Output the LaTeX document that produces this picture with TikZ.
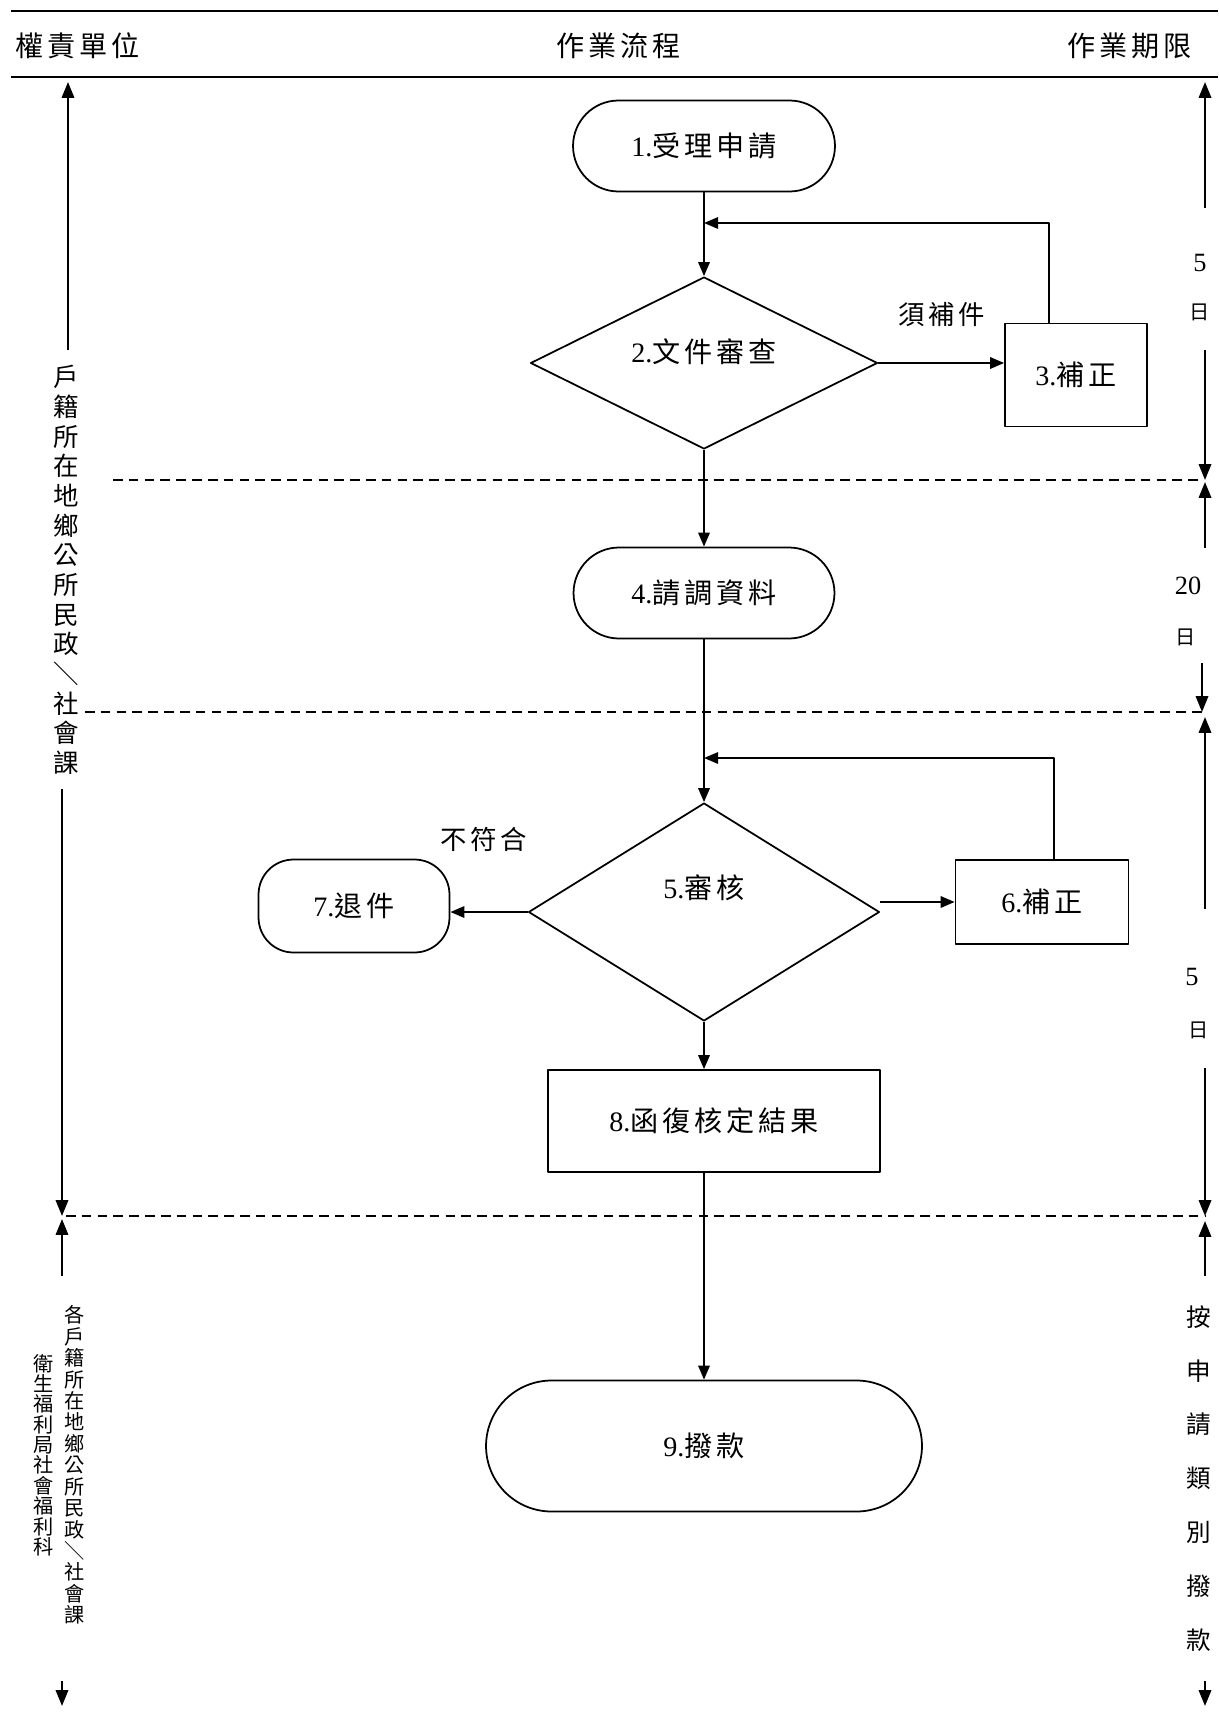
\documentclass[tikz,border=0pt]{standalone}
\usepackage{fontspec}
\setmainfont{Liberation Serif}
\newfontfamily\cjk[LetterSpace=14]{Noto Sans CJK TC}
\newfontfamily\cjkplain{Noto Sans CJK TC}
\newcommand{\zh}[1]{{\cjk #1}}
\usetikzlibrary{arrows.meta,shapes.geometric}

\tikzset{
  proc/.style={draw, line width=1pt, rectangle, inner sep=0pt,
               font=\fontsize{16}{19}\selectfont},
  term/.style={proc, rounded corners=#1},
  decide/.style={draw, line width=1pt, diamond, inner sep=0pt,
                 font=\fontsize{16}{19}\selectfont},
  head/.style={font=\cjk\fontsize{16}{19}\selectfont},
  note/.style={font=\cjk\fontsize{15}{18}\selectfont},
  flow/.style={line width=1.2pt, -{Triangle[length=8pt,width=6.5pt]}},
  loopline/.style={flow, line width=1pt},
  sep/.style={line width=1pt, dash pattern=on 5.5pt off 3.5pt},
  span/.style={line width=1.3pt, -{Triangle[length=9pt,width=7pt]}},
  days/.style={font=\fontsize{15}{18}\selectfont},
  dayzh/.style={font=\cjkplain\fontsize{11.5}{14}\selectfont},
}

\begin{document}
\begin{tikzpicture}[x=0.02cm, y=-0.02cm, line join=round]
  \def\cx{704}
  \useasboundingbox (0,0) rectangle (1218,1717);

  % Header
  \draw[line width=1.6pt] (11,11) -- (1218,11);
  \draw[line width=1.6pt] (11,77) -- (1218,77);
  \node[head, anchor=west] (hunit) at (9,46) {權責單位};
  \node[head] (hflow) at (619,46) {作業流程};
  \node[head, anchor=east] (hdue) at (1198,46) {作業期限};

  % Stage separators
  \draw[sep] (113,480) -- (1203,480);
  \draw[sep] (85,712) -- (1203,712);
  \draw[sep] (66,1216) -- (1205,1216);

  % Flow nodes
  \node[term=0.91cm, minimum width=5.24cm, minimum height=1.82cm] (apply) at (\cx,146) {1.\zh{受理申請}};
  \node[decide, aspect=2, minimum width=6.94cm, minimum height=3.44cm, text depth=14pt] (check) at (\cx,363) {2.\zh{文件審查}};
  \node[proc, minimum width=2.84cm, minimum height=2.06cm] (fix1) at (1076,375) {3.\zh{補正}};
  \node[term=0.91cm, minimum width=5.22cm, minimum height=1.82cm] (fetch) at (\cx,593) {4.\zh{請調資料}};
  \node[decide, aspect=1.6, minimum width=7.02cm, minimum height=4.36cm, text depth=29pt] (review) at (\cx,912) {5.\zh{審核}};
  \node[proc, minimum width=3.46cm, minimum height=1.68cm] (fix2) at (1042,902) {6.\zh{補正}};
  \node[term=0.7cm, minimum width=3.82cm, minimum height=1.86cm] (reject) at (354,906) {7.\zh{退件}};
  \node[proc, minimum width=6.64cm, minimum height=2.04cm] (reply) at (714,1121) {8.\zh{函復核定結果}};
  \node[term=1.31cm, minimum width=8.72cm, minimum height=2.62cm] (pay) at (\cx,1446) {9.\zh{撥款}};

  % Branch labels
  \node[note] (needmore) at (942,315) {須補件};
  \node[note] (nomatch) at (484,839) {不符合};

  % Connectors
  \coordinate (loop1) at (1049,223);
  \coordinate (loop2) at (1054,758);
  \draw[flow] (apply) -- (check);
  \draw[flow] (check.east) -- (check.east -| fix1.west);
  \draw[loopline] (fix1.north -| loop1) -- (loop1) -- (loop1 -| apply.south);
  \draw[flow] (check) -- (fetch);
  \draw[flow] (fetch) -- (review);
  \draw[loopline] (fix2.north -| loop2) -- (loop2) -- (loop2 -| fetch.south);
  \draw[flow] (review.west) -- (review.west -| reject.east);
  \draw[flow] (review.east |- fix2.west) -- (fix2.west);
  \draw[flow] (review.south) -- (review.south |- reply.north);
  \draw[flow] (reply.south -| pay.north) -- (pay.north);

  % Responsible units
  \node[align=center, font=\cjkplain\fontsize{14.5}{16.9}\selectfont] (unitA) at (66,570)
    {戶\\籍\\所\\在\\地\\鄉\\公\\所\\民\\政\\＼\\社\\會\\課};
  \node[align=center, font=\cjkplain\fontsize{11.5}{12.2}\selectfont] (unitB) at (75,1465)
    {各\\戶\\籍\\所\\在\\地\\鄉\\公\\所\\民\\政\\＼\\社\\會\\課};
  \node[align=center, font=\cjkplain\fontsize{11.5}{11.6}\selectfont] (unitC) at (44,1455)
    {衛\\生\\福\\利\\局\\社\\會\\福\\利\\科};

  % Time limits
  \node[days] (lim1) at (1200,263) {5};
  \node[dayzh] (lim1u) at (1200,312) {日};
  \node[days] (lim2) at (1188,586) {20};
  \node[dayzh] (lim2u) at (1186,637) {日};
  \node[days] (lim3) at (1192,977) {5};
  \node[dayzh] (lim3u) at (1199,1030) {日};
  \foreach \ch [count=\i] in {按,申,請,類,別,撥,款}
    \node[font=\cjkplain\fontsize{14}{16}\selectfont] (rule\i) at (1199,{1317+53.8*(\i-1)}) {\ch};

  % Span arrows
  \foreach \xa/\ya/\yb in {1205/208/82, 1205/350/480, 1205/548/482, 1202/663/712,
                          1205/909/717, 1205/1068/1216, 1205/1276/1221, 1205/1681/1706,
                          68/350/82, 62/789/1216, 62/1276/1219, 62/1681/1706}
    \draw[span] (\xa,\ya) -- (\xa,\yb);
\end{tikzpicture}
\end{document}
